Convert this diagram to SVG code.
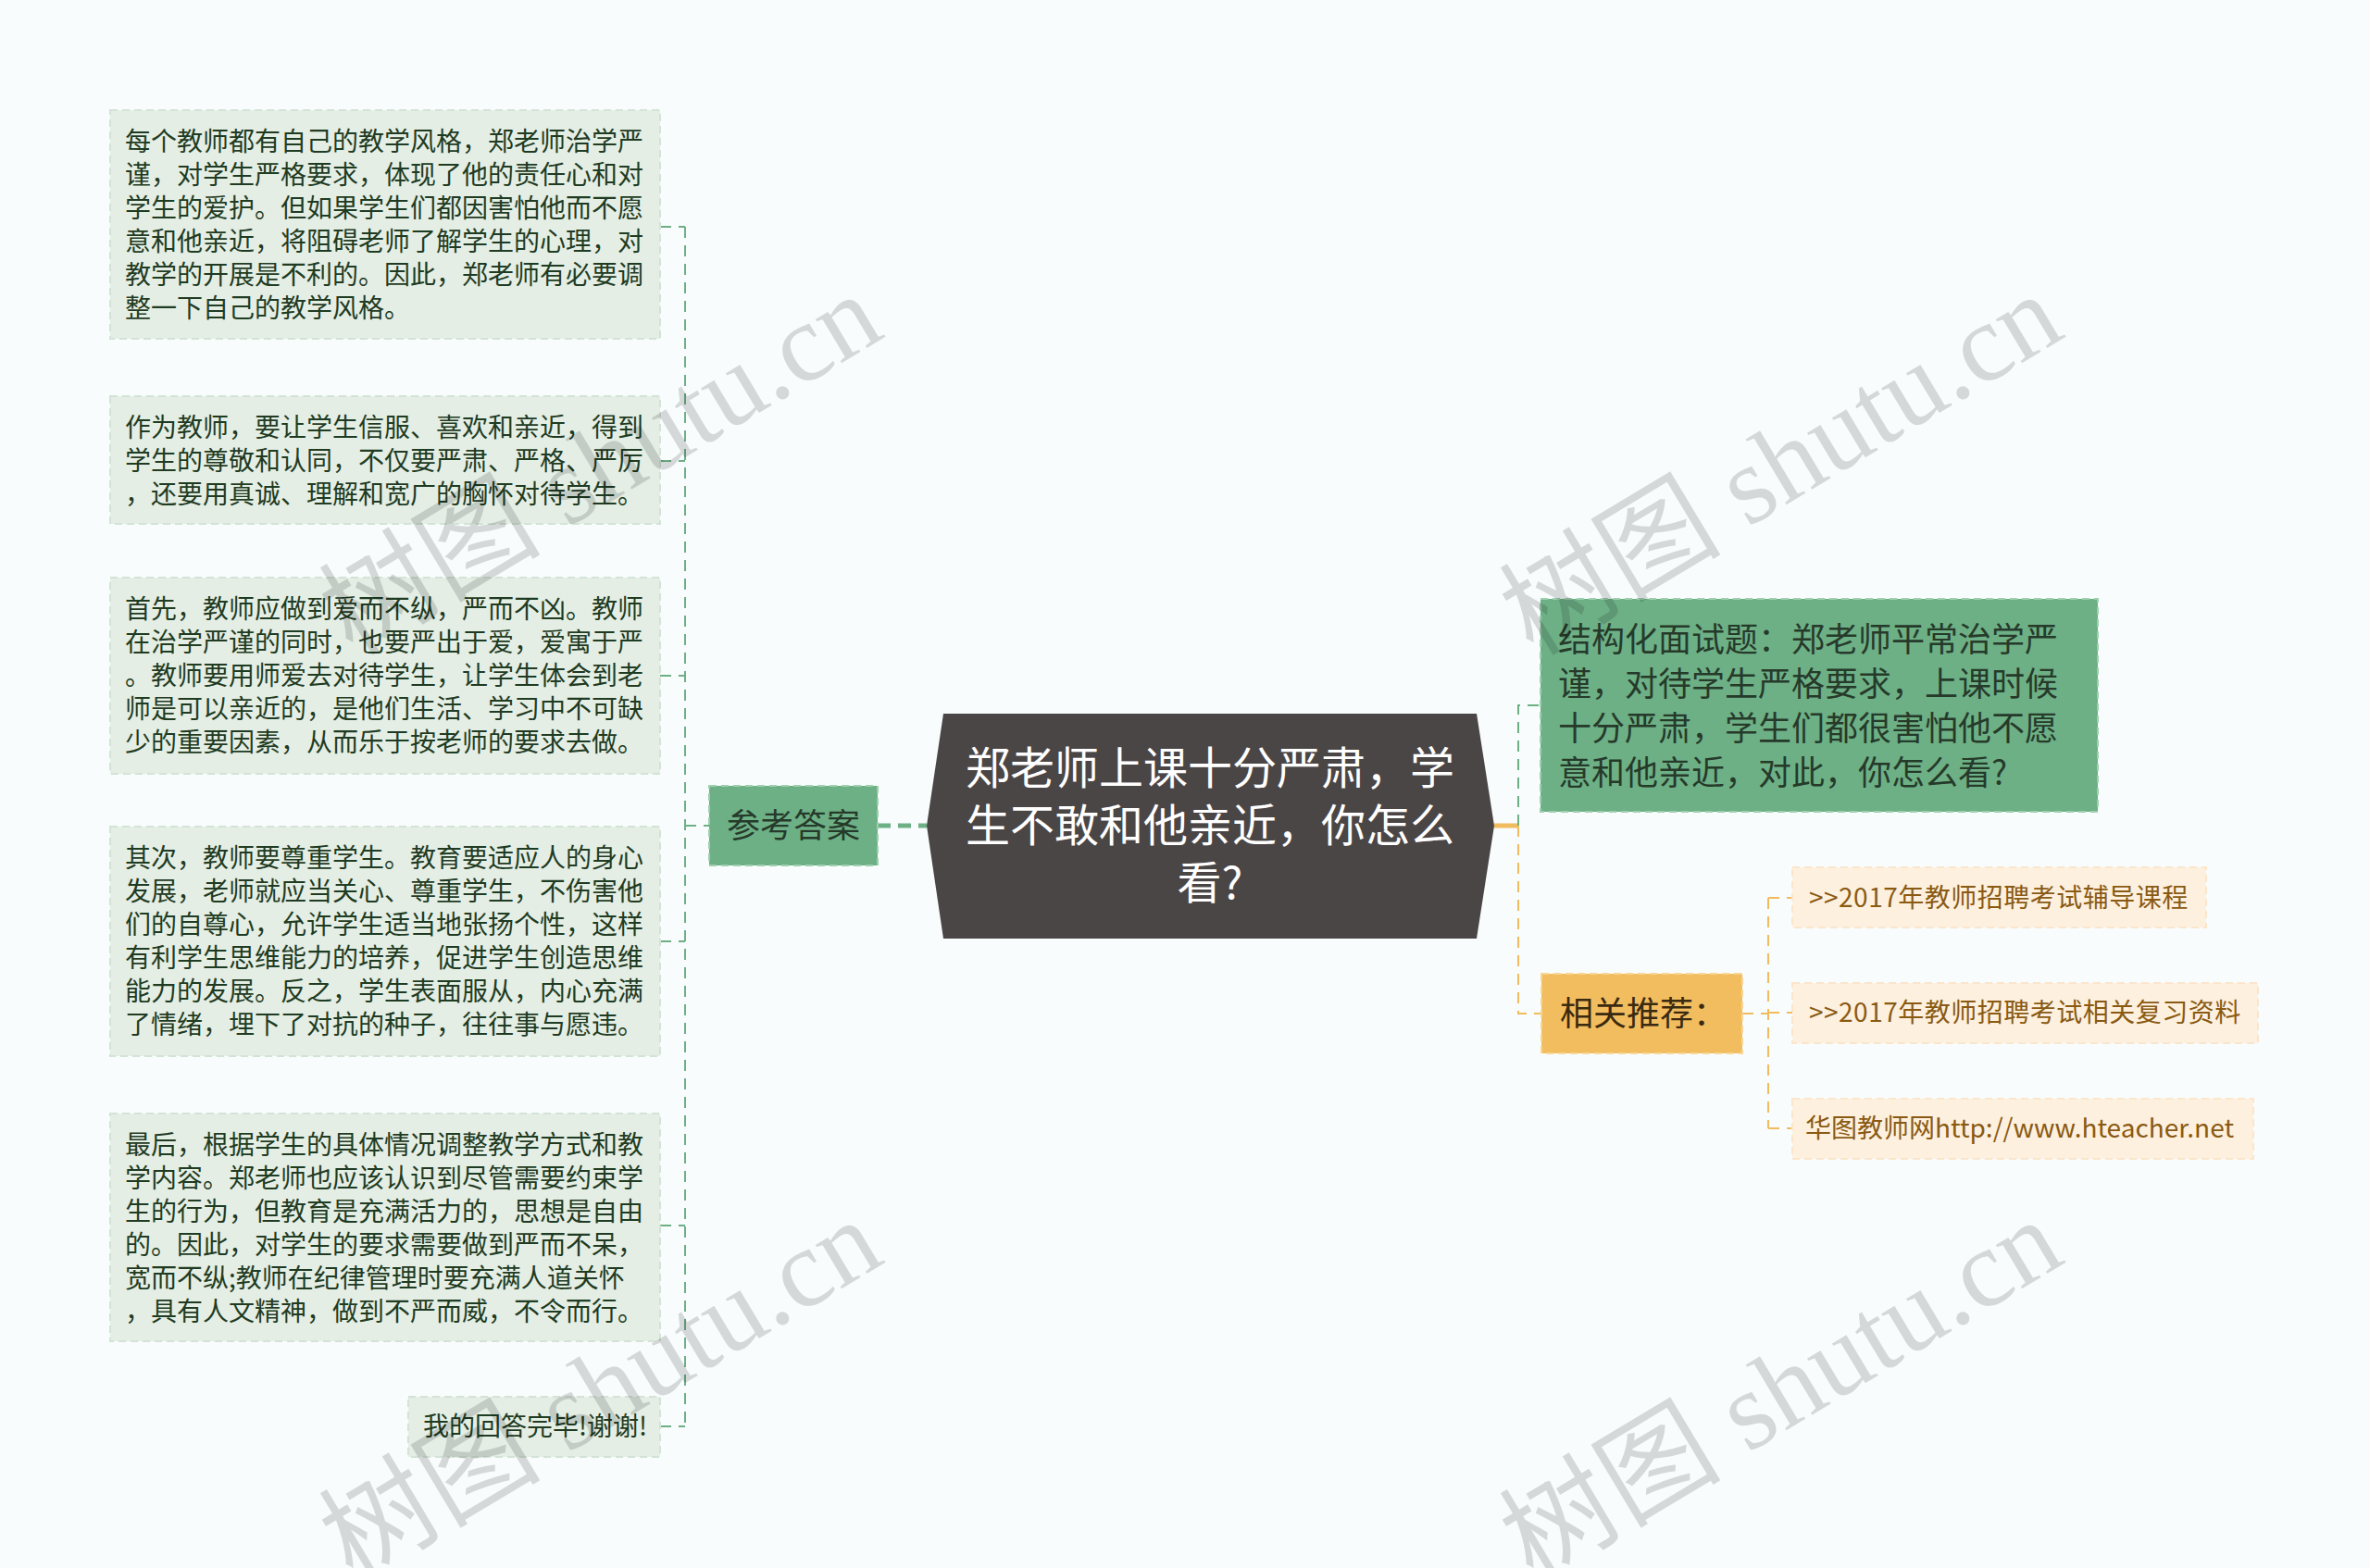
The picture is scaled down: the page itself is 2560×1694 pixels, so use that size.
<svg xmlns="http://www.w3.org/2000/svg" width="2560" height="1694" viewBox="0 0 2560 1694">
<style>
.bg{fill:#f8fcfc}
.lb{fill:#e4eee5;stroke:#d3e3d5;stroke-width:2;stroke-dasharray:8,5}
.lt{font-family:"Noto Sans CJK SC","Noto Sans",sans-serif;font-size:28px;fill:#1f3b22}
.gb{fill:#6db086;stroke:#9fcfae;stroke-width:2;stroke-dasharray:8,5}
.gt{font-family:"Noto Sans CJK SC","Noto Sans",sans-serif;font-size:36px;fill:#263a2a}
.ob{fill:#f2bd5f;stroke:#f7d595;stroke-width:2;stroke-dasharray:8,5}
.ot{font-family:"Noto Sans CJK SC","Noto Sans",sans-serif;font-size:36px;fill:#3a2a10}
.ib{fill:#fdf0df;stroke:#fbe6cc;stroke-width:2;stroke-dasharray:8,5}
.it{font-family:"Noto Sans CJK SC","Noto Sans",sans-serif;font-size:28px;fill:#8a5a12}
.ct{font-family:"Noto Sans CJK SC","Noto Sans",sans-serif;font-size:48px;fill:#ffffff}
.gl{fill:none;stroke:#6db086;stroke-width:2;stroke-dasharray:12,8}
.glt{fill:none;stroke:#6db086;stroke-width:5;stroke-dasharray:14,8}
.ol{fill:none;stroke:#f0bc5e;stroke-width:2;stroke-dasharray:12,8}
.olt{fill:none;stroke:#f0bc5e;stroke-width:5}
.wm{font-family:"Liberation Serif","Noto Sans CJK SC",serif;font-size:120px;fill:#000;fill-opacity:0.14}
</style>
<rect class="bg" x="0" y="0" width="2560" height="1694"/>

<g id="connectors">
  <path class="gl" d="M713,245 H740 M713,498 H740 M713,730 H740 M713,1017 H740 M713,1324 H740 M713,1541 H740 M740,245 V1541 M740,892 H766"/>
  <path class="glt" d="M948,892 H1001"/>
  <path class="olt" d="M1614,892 H1640"/>
  <path class="gl" d="M1640,892 V762 H1664"/>
  <path class="ol" d="M1640,892 V1095 H1665"/>
  <path class="ol" d="M1882,1095 H1910 M1910,970 V1219 M1910,970 H1936 M1910,1094 H1936 M1910,1219 H1936"/>
</g>

<g id="node-center">
  <polygon points="1019,771 1595,771 1614,892 1595,1014 1019,1014 1001,892" fill="#4b4646"/>
  <text class="ct" text-anchor="middle" x="1307" y="847">郑老师上课十分严肃，学</text>
  <text class="ct" text-anchor="middle" x="1307" y="909">生不敢和他亲近，你怎么</text>
  <text class="ct" text-anchor="middle" x="1307" y="971">看?</text>
</g>

<g id="node-answer">
  <rect class="gb" x="766" y="849" width="182" height="86"/>
  <text class="gt" text-anchor="middle" x="857" y="905">参考答案</text>
</g>

<g id="node-a1">
  <rect class="lb" x="119" y="119" width="594" height="247"/>
  <text class="lt" x="135" y="163">每个教师都有自己的教学风格，郑老师治学严</text>
  <text class="lt" x="135" y="199">谨，对学生严格要求，体现了他的责任心和对</text>
  <text class="lt" x="135" y="235">学生的爱护。但如果学生们都因害怕他而不愿</text>
  <text class="lt" x="135" y="271">意和他亲近，将阻碍老师了解学生的心理，对</text>
  <text class="lt" x="135" y="307">教学的开展是不利的。因此，郑老师有必要调</text>
  <text class="lt" x="135" y="343">整一下自己的教学风格。</text>
</g>

<g id="node-a2">
  <rect class="lb" x="119" y="428" width="594" height="138"/>
  <text class="lt" x="135" y="472">作为教师，要让学生信服、喜欢和亲近，得到</text>
  <text class="lt" x="135" y="508">学生的尊敬和认同，不仅要严肃、严格、严厉</text>
  <text class="lt" x="135" y="544">，还要用真诚、理解和宽广的胸怀对待学生。</text>
</g>

<g id="node-a3">
  <rect class="lb" x="119" y="624" width="594" height="212"/>
  <text class="lt" x="135" y="668">首先，教师应做到爱而不纵，严而不凶。教师</text>
  <text class="lt" x="135" y="704">在治学严谨的同时，也要严出于爱，爱寓于严</text>
  <text class="lt" x="135" y="740">。教师要用师爱去对待学生，让学生体会到老</text>
  <text class="lt" x="135" y="776">师是可以亲近的，是他们生活、学习中不可缺</text>
  <text class="lt" x="135" y="812">少的重要因素，从而乐于按老师的要求去做。</text>
</g>

<g id="node-a4">
  <rect class="lb" x="119" y="893" width="594" height="248"/>
  <text class="lt" x="135" y="937">其次，教师要尊重学生。教育要适应人的身心</text>
  <text class="lt" x="135" y="973">发展，老师就应当关心、尊重学生，不伤害他</text>
  <text class="lt" x="135" y="1009">们的自尊心，允许学生适当地张扬个性，这样</text>
  <text class="lt" x="135" y="1045">有利学生思维能力的培养，促进学生创造思维</text>
  <text class="lt" x="135" y="1081">能力的发展。反之，学生表面服从，内心充满</text>
  <text class="lt" x="135" y="1117">了情绪，埋下了对抗的种子，往往事与愿违。</text>
</g>

<g id="node-a5">
  <rect class="lb" x="119" y="1203" width="594" height="246"/>
  <text class="lt" x="135" y="1247">最后，根据学生的具体情况调整教学方式和教</text>
  <text class="lt" x="135" y="1283">学内容。郑老师也应该认识到尽管需要约束学</text>
  <text class="lt" x="135" y="1319">生的行为，但教育是充满活力的，思想是自由</text>
  <text class="lt" x="135" y="1355">的。因此，对学生的要求需要做到严而不呆，</text>
  <text class="lt" x="135" y="1391">宽而不纵;教师在纪律管理时要充满人道关怀</text>
  <text class="lt" x="135" y="1427">，具有人文精神，做到不严而威，不令而行。</text>
</g>

<g id="node-a6">
  <rect class="lb" x="441" y="1509" width="272" height="65"/>
  <text class="lt" x="457" y="1551">我的回答完毕!谢谢!</text>
</g>

<g id="node-question">
  <rect class="gb" x="1664" y="647" width="602" height="230"/>
  <text class="gt" x="1683" y="704">结构化面试题：郑老师平常治学严</text>
  <text class="gt" x="1683" y="752">谨，对待学生严格要求，上课时候</text>
  <text class="gt" x="1683" y="800">十分严肃，学生们都很害怕他不愿</text>
  <text class="gt" x="1683" y="848">意和他亲近，对此，你怎么看?</text>
</g>

<g id="node-related">
  <rect class="ob" x="1665" y="1052" width="217" height="86"/>
  <text class="ot" x="1685" y="1108">相关推荐：</text>
</g>

<g id="node-r1">
  <rect class="ib" x="1936" y="937" width="447" height="65"/>
  <text class="it" x="1954" y="980" letter-spacing="0.5">&gt;&gt;2017年教师招聘考试辅导课程</text>
</g>
<g id="node-r2">
  <rect class="ib" x="1936" y="1062" width="503" height="65"/>
  <text class="it" x="1954" y="1104" letter-spacing="0.5">&gt;&gt;2017年教师招聘考试相关复习资料</text>
</g>
<g id="node-r3">
  <rect class="ib" x="1936" y="1187" width="498" height="65"/>
  <text class="it" x="1950" y="1229">华图教师网http://www.hteacher.net</text>
</g>

<g id="watermarks">
  <text class="wm" text-anchor="middle" transform="translate(649,502) rotate(-31)" x="0" y="40">树图 shutu.cn</text>
  <text class="wm" text-anchor="middle" transform="translate(1924,502) rotate(-31)" x="0" y="40">树图 shutu.cn</text>
  <text class="wm" text-anchor="middle" transform="translate(649,1502) rotate(-31)" x="0" y="40">树图 shutu.cn</text>
  <text class="wm" text-anchor="middle" transform="translate(1924,1502) rotate(-31)" x="0" y="40">树图 shutu.cn</text>
</g>
</svg>
